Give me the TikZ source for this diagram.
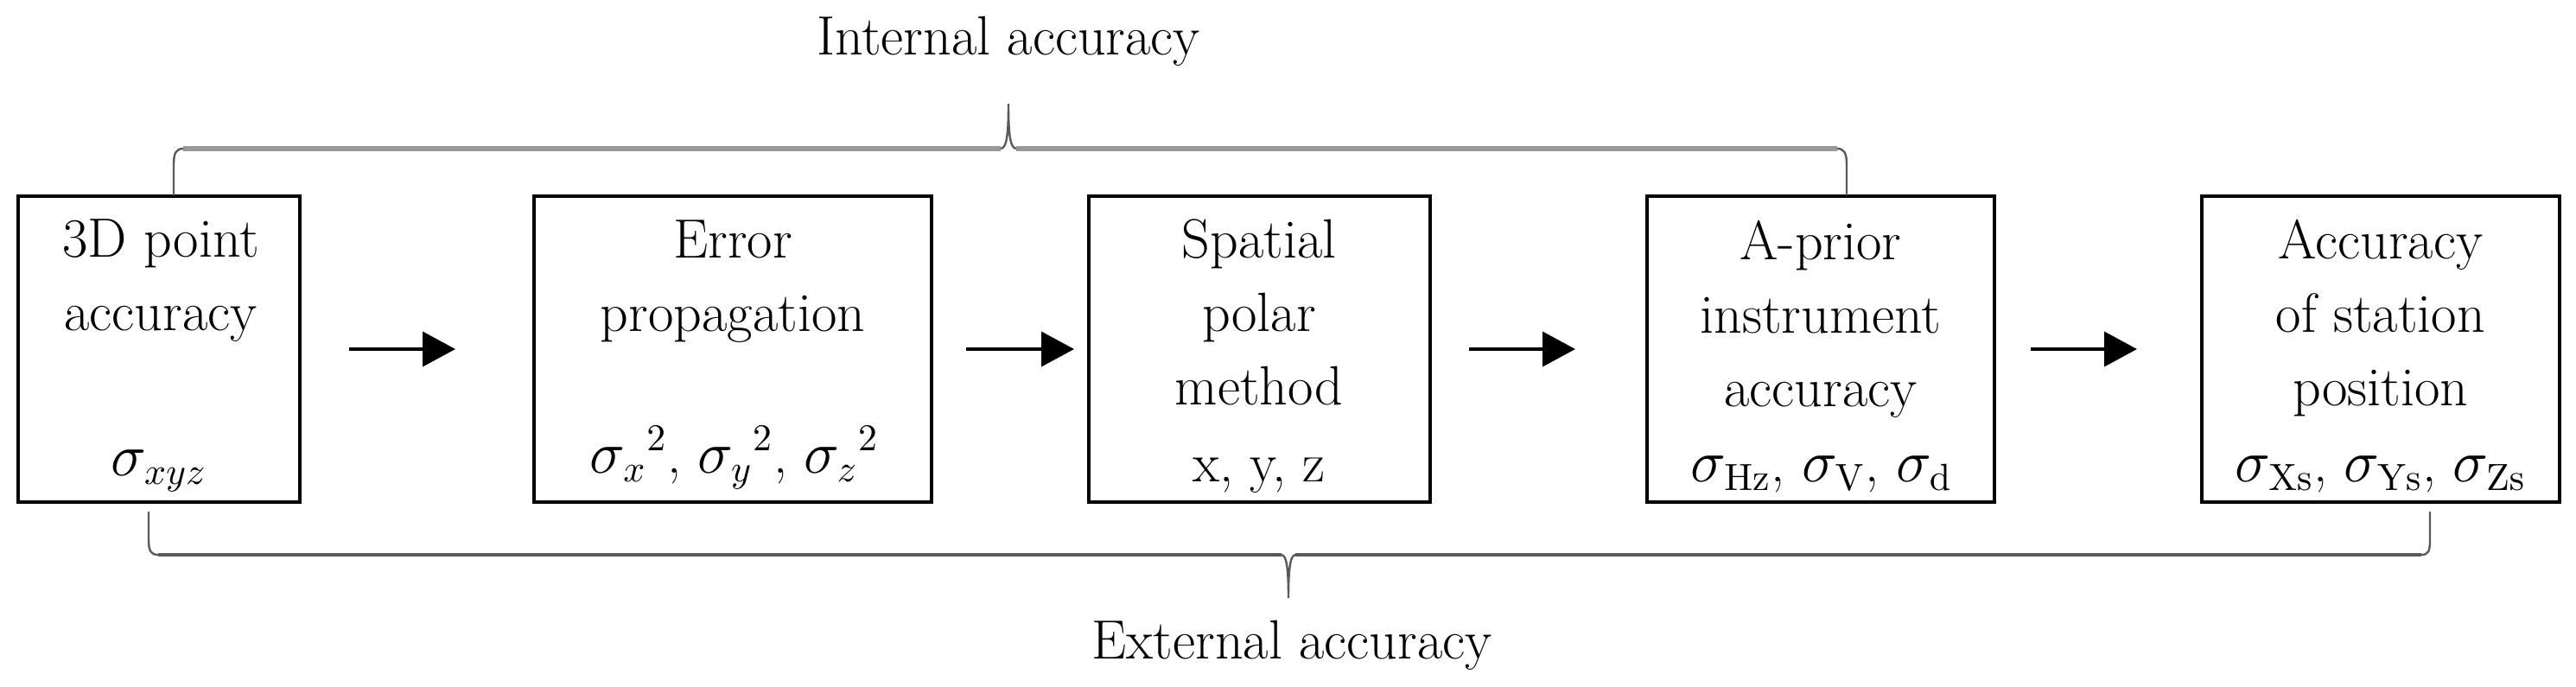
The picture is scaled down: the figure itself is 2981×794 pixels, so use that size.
\documentclass[tikz,border=0pt]{standalone}
\usepackage{amsmath}
\usepackage{xcolor}
\usepackage{tikz}
\usetikzlibrary{positioning, arrows.meta}

\definecolor{barGray}{RGB}{152,152,152}
\definecolor{legGray}{RGB}{90,90,90}

\tikzset{
  stage/.style={draw, line width=1pt, minimum height=88.5pt, inner sep=0pt},
  title/.style={anchor=north, inner sep=0pt, align=center,
    font=\fontsize{16pt}{21.25pt}\selectfont},
  sigmas/.style={anchor=base, inner sep=0pt, font=\fontsize{16pt}{21.25pt}\selectfont},
  flow/.style={line width=1pt, -{Triangle[length=9.5pt,width=10pt]}},
  bar/.style={line width=1.6pt, color=barGray},
  leg/.style={line width=0.6pt, color=legGray},
}

\begin{document}
\begin{tikzpicture}[x=0.25pt,y=0.25pt,yscale=-1,xscale=1]
\useasboundingbox (0,0) rectangle (2981,794);

%Shape: Rectangle [3D point]
\node[stage, minimum width=81.5pt] (point) at (184,404) {};
%Shape: Rectangle [error propagation]
\node[stage, minimum width=115pt] (prop) at (848,404) {};
%Shape: Rectangle [polar method]
\node[stage, minimum width=98.75pt] (polar) at (1457.5,404) {};
%Shape: Rectangle [a-prior]
\node[stage, minimum width=100.5pt] (prior) at (2107,404) {};
%Shape: Rectangle [station]
\node[stage, minimum width=103.5pt] (station) at (2755,404) {};

% Text Node
\node[title] (pointT) at (186,253) {3D point\\accuracy};
\node[sigmas] (pointS) at (184,550) {$\sigma_{xyz}$};
% Text Node
\node[title] (propT) at (848,254) {Error\\propagation};
\node[sigmas] (propS) at (850,547) {$\sigma_{x}{}^{2}$, $\sigma_{y}{}^{2}$, $\sigma_{z}{}^{2}$};
% Text Node
\node[title] (polarT) at (1457,253) {Spatial\\polar\\method};
\node[sigmas] (polarS) at (1457,557) {x, y, z};
% Text Node
\node[title] (priorT) at (2107,254) {A-prior\\instrument\\accuracy};
\node[sigmas] (priorS) at (2108,557) {$\sigma_{\mathrm{Hz}}$, $\sigma_{\mathrm{V}}$, $\sigma_{\mathrm{d}}$};
% Text Node
\node[title] (stationT) at (2755,253) {Accuracy\\of station\\position};
\node[sigmas] (stationS) at (2755,557) {$\sigma_{\mathrm{Xs}}$, $\sigma_{\mathrm{Ys}}$, $\sigma_{\mathrm{Zs}}$};

%Arrows
\draw[flow, shorten <=13.75pt, shorten >=22.25pt] (point) -- (prop);
\draw[flow, shorten <=9.5pt, shorten >=3.75pt] (prop) -- (polar);
\draw[flow, shorten <=10.75pt, shorten >=20.25pt] (polar) -- (prior);
\draw[flow, shorten <=10pt, shorten >=18.25pt] (prior) -- (station);

%Brace [internal]
\draw[bar] (212,172) -- (1158,172) (1176,172) -- (2126,172);
\draw[leg] (201,226) -- (201,190) .. controls (201,177) and (204,172) .. (212,172);
\draw[leg] (1158,172) .. controls (1164,171) and (1167,162) .. (1167,120)
  .. controls (1167,162) and (1170,171) .. (1176,172);
\draw[leg] (2126,172) .. controls (2134,172) and (2137,177) .. (2137,190) -- (2137,226);

%Brace [external]
\draw[leg, line width=1pt] (183,642) -- (1483,642) (1499,642) -- (2802,642);
\draw[leg] (172,592) -- (172,625) .. controls (172,638) and (175,642) .. (183,642);
\draw[leg] (1483,642) .. controls (1488,643) and (1491,652) .. (1491,692)
  .. controls (1491,652) and (1494,643) .. (1499,642);
\draw[leg] (2802,642) .. controls (2810,642) and (2812,638) .. (2812,625) -- (2812,592);

% Text Node
\node[sigmas] (internal) at (1167,63) {Internal accuracy};
\node[sigmas] (external) at (1495,762) {External accuracy};

\end{tikzpicture}
\end{document}
